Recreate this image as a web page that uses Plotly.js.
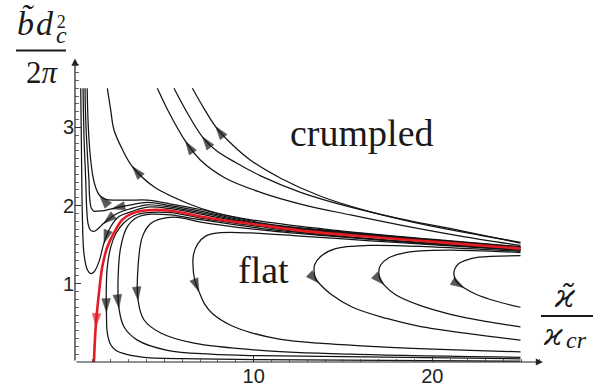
<!DOCTYPE html>
<html>
<head>
<meta charset="utf-8">
<script src="https://cdn.plot.ly/plotly-3.0.1.min.js"></script>
<style>
  html, body { margin: 0; padding: 0; background: #fff; }
  #chart { width: 604px; height: 390px; }
</style>
</head>
<body>
<div id="chart"></div>
<script>
// Flow lines in the (ϰ̃/ϰcr , b̃ dc²/2π) plane.
// Every line is listed in the direction of the flow.

// lines running off to the crumpled phase (upper family)
const u1X = [24.94, 19.9, 14.31, 10.39, 7.97, 6.29, 4.42, 3.21, 2.67, 2.18, 2.0, 1.81];
const u1Y = [1.475, 1.57, 1.69, 1.8, 1.9, 2.03, 2.24, 2.5, 2.71, 2.97, 3.22, 3.5];
const u2X = [24.94, 21.58, 18.23, 15.43, 12.63, 10.39, 8.43, 7.03, 6.19, 5.24, 4.61];
const u2Y = [1.49, 1.61, 1.75, 1.88, 2.02, 2.17, 2.35, 2.58, 2.82, 3.2, 3.5];
const u3X = [24.94, 21.58, 18.23, 15.43, 12.63, 10.39, 8.99, 7.87, 7.13, 6.25, 5.54];
const u3Y = [1.52, 1.68, 1.83, 1.98, 2.17, 2.38, 2.55, 2.71, 2.88, 3.2, 3.5];
const u4X = [24.94, 22.7, 19.9, 16.55, 13.75, 11.51, 9.83, 8.71, 7.87, 7.2, 6.57];
const u4Y = [1.53, 1.62, 1.74, 1.92, 2.12, 2.35, 2.58, 2.8, 3.01, 3.25, 3.5];

// lines turning back near the axis and running up into the crumpled phase
const l1X = [24.94, 19.9, 14.31, 10.39, 7.03, 5.36, 4.05, 3.12, 2.28, 1.72, 1.38, 1.16, 0.99, 0.85, 0.74, 0.68];
const l1Y = [1.47, 1.565, 1.68, 1.78, 1.95, 2.02, 2.07, 2.07, 2.07, 2.08, 2.13, 2.23, 2.39, 2.65, 3.03, 3.5];
const l2X = [24.94, 19.9, 14.31, 10.39, 7.03, 5.36, 4.05, 3.12, 2.28, 1.72, 1.27, 1.06, 0.91, 0.82, 0.78, 0.68, 0.6, 0.56];
const l2Y = [1.465, 1.56, 1.67, 1.77, 1.93, 2.0, 2.04, 2.01, 1.97, 1.94, 1.93, 1.93, 1.97, 2.1, 2.33, 2.71, 3.1, 3.5];
const l3X = [24.94, 19.9, 14.31, 10.39, 7.03, 5.36, 4.05, 3.12, 2.28, 1.59, 1.27, 1.05, 0.85, 0.73, 0.65, 0.6, 0.51, 0.45];
const l3Y = [1.46, 1.555, 1.66, 1.76, 1.91, 1.98, 2.01, 1.96, 1.89, 1.77, 1.7, 1.67, 1.69, 1.77, 1.99, 2.33, 2.84, 3.5];
const l4X = [24.94, 19.9, 14.31, 10.39, 7.03, 5.36, 4.05, 3.12, 2.46, 2.0, 1.62, 1.34, 1.06, 0.88, 0.69, 0.5, 0.41, 0.36, 0.32];
const l4Y = [1.455, 1.55, 1.65, 1.75, 1.89, 1.96, 1.98, 1.92, 1.86, 1.73, 1.52, 1.28, 1.15, 1.13, 1.18, 1.39, 1.9, 2.75, 3.5];

// separatrix
const redX = [24.94, 21.02, 18.23, 15.43, 12.63, 10.39, 8.71, 7.03, 5.36, 4.05, 3.21, 2.65, 2.18, 1.81, 1.53, 1.34, 1.16, 1.06];
const redY = [1.45, 1.52, 1.57, 1.62, 1.68, 1.75, 1.8, 1.86, 1.935, 1.94, 1.9, 1.82, 1.65, 1.47, 1.22, 0.88, 0.45, 0];

// lines flowing into the flat phase
const f1X = [24.94, 19.9, 14.31, 10.39, 7.03, 5.36, 4.05, 3.3, 2.74, 2.28, 2.0, 1.81, 1.75, 1.76, 1.81, 2.0, 2.28, 2.84, 3.86, 7.03, 10.39, 24.94];
const f1Y = [1.44, 1.52, 1.62, 1.73, 1.84, 1.91, 1.91, 1.87, 1.78, 1.64, 1.47, 1.22, 0.92, 0.64, 0.37, 0.22, 0.15, 0.1, 0.06, 0.04, 0.03, 0.01];
const f2X = [24.94, 19.9, 14.31, 10.39, 7.03, 5.36, 4.24, 3.49, 2.93, 2.56, 2.41, 2.46, 2.74, 3.49, 5.17, 7.59, 10.39, 24.94];
const f2Y = [1.435, 1.515, 1.62, 1.71, 1.82, 1.88, 1.89, 1.85, 1.73, 1.47, 1.05, 0.69, 0.45, 0.28, 0.15, 0.1, 0.08, 0.04];
const f3X = [24.94, 19.9, 14.31, 10.39, 7.03, 5.73, 4.8, 4.24, 3.77, 3.53, 3.53, 3.86, 4.8, 6.66, 10.39, 15.43, 24.94];
const f3Y = [1.43, 1.51, 1.61, 1.69, 1.79, 1.85, 1.83, 1.77, 1.6, 1.22, 0.79, 0.54, 0.37, 0.24, 0.15, 0.1, 0.06];
const f4X = [24.94, 19.9, 16.55, 12.63, 9.83, 8.04, 7.31, 6.87, 6.64, 6.6, 6.7, 6.94, 7.26, 7.69, 8.71, 9.93, 11.51, 13.65, 16.55, 19.25, 22.14, 24.94];
const f4Y = [1.43, 1.5, 1.55, 1.61, 1.65, 1.65, 1.61, 1.51, 1.38, 1.26, 1.05, 0.9, 0.74, 0.62, 0.47, 0.37, 0.29, 0.24, 0.2, 0.17, 0.15, 0.13];
const f5X = [24.94, 20.18, 16.45, 14.59, 13.75, 13.41, 13.39, 13.47, 13.65, 14.31, 15.54, 17.39, 19.23, 22.14, 24.94];
const f5Y = [1.415, 1.47, 1.49, 1.45, 1.35, 1.24, 1.15, 1.06, 1.01, 0.87, 0.7, 0.56, 0.46, 0.36, 0.28];
const f6X = [24.94, 21.02, 19.35, 18.32, 17.55, 17.11, 17.01, 17.08, 17.29, 17.95, 19.35, 21.02, 22.98, 24.94];
const f6Y = [1.4, 1.43, 1.42, 1.39, 1.33, 1.24, 1.16, 1.06, 0.99, 0.86, 0.72, 0.61, 0.52, 0.45];
const f7X = [24.94, 22.61, 21.86, 21.49, 21.28, 21.21, 21.3, 21.47, 21.77, 22.42, 23.54, 24.94];
const f7Y = [1.36, 1.34, 1.3, 1.26, 1.2, 1.13, 1.05, 1.0, 0.95, 0.87, 0.78, 0.7];

// axis ticks
const xTicks = [10, 20];
const xTickText = ['10', '20'];
const yTicks = [1, 2, 3];
const yTickText = ['1', '2', '3'];

const blackLines = {
  u1: [u1X, u1Y], u2: [u2X, u2Y], u3: [u3X, u3Y], u4: [u4X, u4Y],
  l1: [l1X, l1Y], l2: [l2X, l2Y], l3: [l3X, l3Y], l4: [l4X, l4Y],
  f1: [f1X, f1Y], f2: [f2X, f2Y], f3: [f3X, f3Y], f4: [f4X, f4Y],
  f5: [f5X, f5Y], f6: [f6X, f6Y], f7: [f7X, f7Y]
};
const allLines = Object.assign({}, blackLines, { red: [redX, redY] });

// where along each line (point index, may be fractional) an arrowhead sits
const arrowPlaces = [
  ['u1', 7], ['u2', 8], ['u3', 8], ['u4', 8],
  ['l1', 10], ['l2', 8.4], ['l3', 9], ['l4', 10],
  ['red', 16],
  ['f1', 13], ['f2', 11], ['f3', 10], ['f4', 11], ['f5', 8], ['f6', 8], ['f7', 8]
];

const INK = '#141414';
const RED = 'rgb(229,27,36)';
const SERIF = 'Liberation Serif, DejaVu Serif, serif';
const GREEK = 'DejaVu Serif, serif';
const SANS = 'Liberation Sans, Arial, sans-serif';

const traces = [];
for (const [name, [xs, ys]] of Object.entries(blackLines)) {
  traces.push({
    type: 'scatter', mode: 'lines', x: xs, y: ys, name: name,
    line: { color: INK, width: 1.25, shape: 'spline', smoothing: 1 },
    hoverinfo: 'skip', showlegend: false
  });
}
traces.push({
  type: 'scatter', mode: 'lines', x: redX, y: redY, name: 'red',
  line: { color: RED, width: 2.6, shape: 'spline', smoothing: 1 },
  hoverinfo: 'skip', showlegend: false
});

// arrowheads: tip on the line, pointing along the local direction of the line
for (const [name, pos] of arrowPlaces) {
  const [xs, ys] = allLines[name];
  const k = Math.floor(pos), t = pos - k;
  let tipX, tipY, dx, dy;
  if (t > 0) {
    tipX = xs[k] + t * (xs[k + 1] - xs[k]);
    tipY = ys[k] + t * (ys[k + 1] - ys[k]);
    dx = xs[k + 1] - xs[k]; dy = ys[k + 1] - ys[k];
  } else {
    tipX = xs[k]; tipY = ys[k];
    const a = Math.max(k - 1, 0), b = Math.min(k + 1, xs.length - 1);
    dx = xs[b] - xs[a]; dy = ys[b] - ys[a];
  }
  const c = name === 'red' ? RED : INK;
  traces.push({
    type: 'scatter', mode: 'markers',
    x: [tipX - 0.1 * dx, tipX], y: [tipY - 0.1 * dy, tipY],
    marker: {
      symbol: 'arrow', angleref: 'previous', size: [0, 14],
      color: c, line: { width: 0.6, color: c }
    },
    hoverinfo: 'skip', showlegend: false, cliponaxis: false
  });
}

// plot box in pixels
const L = 75, T = 57, W = 468, H = 305;
function paper(px, py) { return { x: (px - L) / W, y: (T + H - py) / H }; }
function label(text, cx, baseline, size, family) {
  const p = paper(cx, baseline - 0.34 * size);
  return {
    xref: 'paper', yref: 'paper', x: p.x, y: p.y, xanchor: 'center', yanchor: 'middle',
    showarrow: false, text: text, font: { family: family || SERIF, size: size, color: '#1a1a1a' }
  };
}
// superscript stacked over subscript, as one text block
function stack(top, topSize, bottom, bottomSize, cx, centerY, gap) {
  const p = paper(cx, centerY);
  return {
    xref: 'paper', yref: 'paper', x: p.x, y: p.y, xanchor: 'center', yanchor: 'middle',
    showarrow: false, align: 'center',
    text: '<span style="font-size:' + topSize + 'px">' + top + '</span><br>' +
          '<span style="font-size:' + bottomSize + 'px">' + bottom + '</span>',
    font: { family: SERIF, size: gap / 1.3, color: '#1a1a1a' }
  };
}
function bar(x0, x1, py) {
  const a = paper(x0, py), b = paper(x1, py);
  return { type: 'line', xref: 'paper', yref: 'paper', x0: a.x, y0: a.y, x1: b.x, y1: b.y,
           line: { color: '#1a1a1a', width: 2 } };
}

const annotations = [
  // axes with arrowheads
  { x: 26.2, y: 0, ax: 0, ay: 0, xref: 'x', yref: 'y', axref: 'x', ayref: 'y', text: '',
    showarrow: true, arrowhead: 2, arrowsize: 1.2, arrowwidth: 1.2, arrowcolor: '#222' },
  { x: 0, y: 3.88, ax: 0, ay: 0, xref: 'x', yref: 'y', axref: 'x', ayref: 'y', text: '',
    showarrow: true, arrowhead: 2, arrowsize: 1.2, arrowwidth: 1.2, arrowcolor: '#222' },
  // phase names
  label('crumpled', 362, 146, 38),
  label('flat', 263.5, 283.3, 38),
  // vertical axis title: b̃ dc² / 2π
  label('<i>b\u0303</i>', 25.5, 35, 34),
  label('<i>d</i>', 44.5, 35, 34),
  stack('2', 18, '<i>c</i>', 24, 61.5, 29.5, 15),
  label('2<i>π</i>', 42.5, 83, 31),
  // horizontal axis title: ϰ̃ / ϰcr
  label('<i>ϰ\u0303</i>', 564.5, 307, 32, GREEK),
  label('<i>ϰ</i>', 553, 345, 30, GREEK),
  label('<i>cr</i>', 576, 348.5, 24)
];

const layout = {
  width: 604, height: 390,
  margin: { l: L, r: 604 - L - W, t: T, b: 390 - T - H, pad: 0 },
  paper_bgcolor: '#fff', plot_bgcolor: '#fff',
  showlegend: false,
  xaxis: {
    range: [0, 26.2], showgrid: false, zeroline: false, showline: false,
    tickmode: 'array', tickvals: xTicks, ticktext: xTickText,
    ticks: 'inside', ticklen: 6, tickwidth: 1, tickcolor: '#333',
    tickfont: { family: SANS, size: 20, color: '#222' },
    minor: { tickmode: 'linear', tick0: 0, dtick: 1, ticks: 'inside', ticklen: 3.5, tickwidth: 0.8, tickcolor: '#444' },
    fixedrange: true
  },
  yaxis: {
    range: [0, 3.9], showgrid: false, zeroline: false, showline: false,
    tickmode: 'array', tickvals: yTicks, ticktext: yTickText,
    ticks: 'inside', ticklen: 6, tickwidth: 1, tickcolor: '#333',
    tickfont: { family: SANS, size: 20, color: '#222' },
    minor: { tickmode: 'linear', tick0: 0, dtick: 0.1, ticks: 'inside', ticklen: 3.5, tickwidth: 0.8, tickcolor: '#444' },
    fixedrange: true
  },
  annotations: annotations,
  shapes: [bar(16, 66, 50.5), bar(541, 593, 316)]
};

Plotly.newPlot('chart', traces, layout, { displayModeBar: false, staticPlot: true });
</script>
</body>
</html>
